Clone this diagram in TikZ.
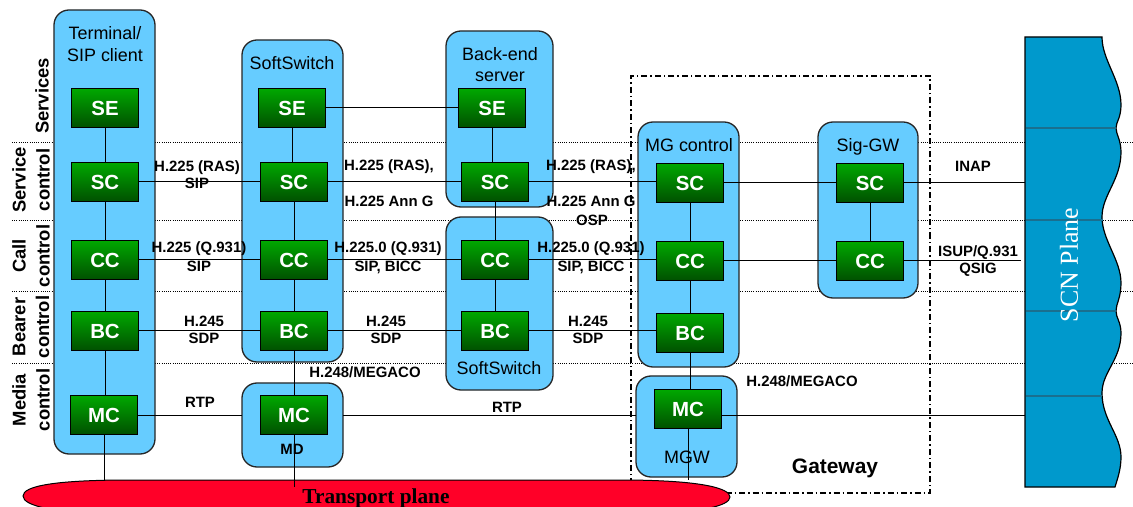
\documentclass[tikz,border=0pt]{standalone}
\usepackage{fontspec}
\setmainfont{Liberation Sans}
\newfontfamily\seriffont{Liberation Serif}
\definecolor{boxblue}{HTML}{66CCFF}
\definecolor{gtop}{HTML}{00A800}
\definecolor{gbot}{HTML}{005000}
\definecolor{scnblue}{HTML}{0099CC}
\definecolor{scnline}{HTML}{1A6F8F}
\definecolor{tpred}{HTML}{FF0028}
\tikzset{
  gbox/.style={draw=black, line width=1bp, top color=gtop, bottom color=gbot,
    minimum width=67bp, minimum height=39bp, inner sep=0pt, text=white,
    font=\fontsize{20.5}{22}\selectfont\bfseries},
  bbox/.style={draw=black!85, line width=1.3bp, fill=boxblue, rounded corners=15bp,
    inner sep=0pt, outer sep=0pt},
  gwbox/.style={draw=black, line width=1.6bp, dash pattern=on 6bp off 3bp on 1.5bp off 3bp,
    inner sep=0pt, outer sep=0pt},
  lbl/.style={font=\fontsize{15}{17}\selectfont\bfseries, anchor=base, inner sep=0pt},
  boxlbl/.style={font=\fontsize{18}{22}\selectfont, anchor=base, inner sep=0pt},
  rowlbl/.style={font=\fontsize{18.5}{24}\selectfont\bfseries, rotate=90, align=center, inner sep=0pt},
  conn/.style={line width=1bp, black},
  sepline/.style={line width=0.9bp, dash pattern=on 1bp off 1.2bp, black},
}
\begin{document}
\begin{tikzpicture}[x=1bp, y=-1bp]
\useasboundingbox (0,0) rectangle (1133,507);

% layer separators
\draw[sepline] (12,142) -- (1133,142);
\draw[sepline] (12,220) -- (1133,220);
\draw[sepline] (12,291) -- (1133,291);
\draw[sepline] (12,363) -- (1133,363);

% row labels
\node[rowlbl] (rSvc) at (42,96) {Services};
\node[rowlbl] (rSC) at (31,180) {Service\\control};
\node[rowlbl] (rCC) at (31,256) {Call\\control};
\node[rowlbl] (rBC) at (31,327) {Bearer\\control};
\node[rowlbl] (rMC) at (31,400) {Media\\control};

% gateway
\node[gwbox, minimum width=299bp, minimum height=417bp] (gw) at (780.5,284.5) {};
\node[font=\fontsize{21}{24}\selectfont\bfseries, anchor=base, inner sep=0pt] (gwlbl) at (835,473) {Gateway};

% blue boxes
\node[bbox, minimum width=101bp, minimum height=444bp] (term) at (104.5,232) {};
\node[bbox, minimum width=101bp, minimum height=322bp] (ss1) at (292.5,201) {};
\node[bbox, minimum width=101bp, minimum height=84bp] (md) at (292.5,425) {};
\node[bbox, minimum width=107bp, minimum height=176bp] (be) at (499.5,119) {};
\node[bbox, minimum width=107bp, minimum height=173bp] (ss2) at (499.5,303.5) {};
\node[bbox, minimum width=101bp, minimum height=245bp] (mgc) at (688.5,244.5) {};
\node[bbox, minimum width=101bp, minimum height=101bp] (mgw) at (686.5,426.5) {};
\node[bbox, minimum width=100bp, minimum height=176bp] (sig) at (868,210) {};

% box labels
\node[boxlbl] (termA) at (105,40) {Terminal/};
\node[boxlbl] (termB) at (105,62) {SIP client};
\node[boxlbl] (ss1l) at (292,70) {SoftSwitch};
\node[boxlbl] (beA) at (500,61) {Back-end};
\node[boxlbl] (beB) at (500,82) {server};
\node[boxlbl] (ss2l) at (499,375) {SoftSwitch};
\node[boxlbl] (mgcl) at (689,152) {MG control};
\node[boxlbl] (sigl) at (868,152) {Sig-GW};
\node[boxlbl] (mgwl) at (687,463) {MGW};
\node[lbl] (mdl) at (292,454) {MD};

% SCN plane
\draw[fill=scnblue, line width=1.2bp] (1025,37) -- (1102,37)
  .. controls (1102,60) and (1121,80) .. (1121,105)
  .. controls (1121,118) and (1116,122) .. (1116,128)
  .. controls (1116,134) and (1121,140) .. (1121,152)
  .. controls (1121,180) and (1102,195) .. (1102,217)
  .. controls (1102,240) and (1121,260) .. (1121,283)
  .. controls (1121,298) and (1116,304) .. (1116,311)
  .. controls (1116,318) and (1121,322) .. (1121,333)
  .. controls (1121,360) and (1102,372) .. (1102,393)
  .. controls (1102,420) and (1121,435) .. (1121,457)
  .. controls (1121,470) and (1117,480) .. (1115,487)
  -- (1025,487) -- cycle;
\draw[scnline, line width=1.2bp] (1026,128) -- (1116,128);
\draw[scnline, line width=1.2bp] (1026,220) -- (1103,220);
\draw[scnline, line width=1.2bp] (1026,311) -- (1116,311);
\draw[scnline, line width=1.2bp] (1026,396) -- (1102,396);
\node[rotate=90, text=white, inner sep=0pt, font=\seriffont\fontsize{26}{28}\selectfont] (scnlbl) at (1069,265) {SCN Plane};
\coordinate (scn) at (1025,260);

% transport plane
\draw[fill=tpred, line width=1bp] (23,496) .. controls (23,486) and (55,480) .. (130,480)
  -- (620,480) .. controls (700,480) and (730,488) .. (730,497)
  .. controls (730,506) and (700,514) .. (620,514) -- (130,514)
  .. controls (55,514) and (23,506) .. (23,496) -- cycle;
\node[anchor=base, inner sep=0pt, font=\seriffont\bfseries\fontsize{21.4}{24}\selectfont] (tplbl) at (376,503) {Transport plane};
\coordinate (tp) at (376,480);
\coordinate (tpin) at (376,487);

% green functional entities
\node[gbox] (tSE) at (105,108) {SE};
\node[gbox] (tSC) at (105,182) {SC};
\node[gbox] (tCC) at (105,260) {CC};
\node[gbox] (tBC) at (105,331) {BC};
\node[gbox] (tMC) at (104,415) {MC};

\node[gbox] (sSE) at (292,108) {SE};
\node[gbox] (sSC) at (294,182) {SC};
\node[gbox] (sCC) at (294,260) {CC};
\node[gbox] (sBC) at (294,331) {BC};
\node[gbox] (mdMC) at (294,415) {MC};

\node[gbox] (bSE) at (492,108) {SE};
\node[gbox] (bSC) at (495,182) {SC};
\node[gbox] (s2CC) at (495,260) {CC};
\node[gbox] (s2BC) at (495,331) {BC};

\node[gbox] (mgSC) at (690,183) {SC};
\node[gbox] (mgCC) at (690,261) {CC};
\node[gbox] (mgBC) at (690,333) {BC};
\node[gbox] (mgwMC) at (688,409) {MC};

\node[gbox] (sigSC) at (870,183) {SC};
\node[gbox] (sigCC) at (870,261) {CC};

% connectors
\begin{scope}[conn]
\draw (tSE) -- (tSC);
\draw (tSC) -- (tCC);
\draw (tCC) -- (tBC);
\draw (tBC.south) -- (tBC.south |- tMC.north);
\draw (tMC.south) -- (tMC.south |- tp);

\draw (sSE.south) -- (sSE.south |- sSC.north);
\draw (sSC) -- (sCC);
\draw (sCC) -- (sBC);
\draw (sBC) -- (mdMC);
\draw (mdMC.south) -- (mdMC.south |- tpin);

\draw (bSE.south) -- (bSE.south |- bSC.north);
\draw (bSC) -- (s2CC);
\draw (s2CC) -- (s2BC);

\draw (mgSC) -- (mgCC);
\draw (mgCC) -- (mgBC);
\draw (mgBC.south) -- (mgBC.south |- mgwMC.north);
\draw (mgwMC.south) -- (mgwMC.south |- tp);

\draw (sigSC) -- (sigCC);

\draw (sSE.east) -- (sSE.east -| bSE.west);

\draw (tSC.east) -- (tSC.east -| sSC.west);
\draw (sSC.east) -- (sSC.east -| bSC.west);
\draw (bSC.east) -- (bSC.east -| mgSC.west);
\draw (mgSC.east) -- (mgSC.east -| sigSC.west);
\draw (sigSC.east) -- (sigSC.east -| scn);

\draw (tCC.east) -- (tCC.east -| sCC.west);
\draw (sCC.east) -- (sCC.east -| s2CC.west);
\draw (s2CC.east) -- (s2CC.east -| mgCC.west);
\draw (mgCC.east) -- (mgCC.east -| sigCC.west);
\draw (sigCC.east) -- ([xshift=-4bp]sigCC.east -| scn);

\draw (tBC.east) -- (tBC.east -| sBC.west);
\draw (sBC.east) -- (sBC.east -| s2BC.west);
\draw (s2BC.east) -- (s2BC.east -| mgBC.west);

\draw (tMC.east) -- (tMC.east -| md.west);
\draw (md.east |- mdMC) -- (mgw.west |- mdMC);
\draw (mgwMC.east |- mdMC) -- (scn |- mdMC);
\end{scope}

% protocol labels
\node[lbl] (a1) at (197,172) {H.225 (RAS)};
\node[lbl] (a2) at (197,189) {SIP};
\node[lbl] (a3) at (389,171) {H.225 (RAS),};
\node[lbl] (a4) at (389,207) {H.225 Ann G};
\node[lbl] (a5) at (591,171) {H.225 (RAS),};
\node[lbl] (a6) at (591,207) {H.225 Ann G};
\node[lbl] (a7) at (592,226) {OSP};
\node[lbl] (a8) at (973,172) {INAP};

\node[lbl] (b1) at (199,253) {H.225 (Q.931)};
\node[lbl] (b2) at (199,272) {SIP};
\node[lbl] (b3) at (388,253) {H.225.0 (Q.931)};
\node[lbl] (b4) at (388,272) {SIP, BICC};
\node[lbl] (b5) at (591,253) {H.225.0 (Q.931)};
\node[lbl] (b6) at (591,272) {SIP, BICC};
\node[lbl] (b7) at (978,257) {ISUP/Q.931};
\node[lbl] (b8) at (978,274) {QSIG};

\node[lbl] (c1) at (204,327) {H.245};
\node[lbl] (c2) at (204,344) {SDP};
\node[lbl] (c3) at (386,327) {H.245};
\node[lbl] (c4) at (386,344) {SDP};
\node[lbl] (c5) at (588,327) {H.245};
\node[lbl] (c6) at (588,344) {SDP};

\node[lbl] (d1) at (365,378) {H.248/MEGACO};
\node[lbl] (d2) at (802,387) {H.248/MEGACO};
\node[lbl] (d3) at (200,407) {RTP};
\node[lbl] (d4) at (507,412) {RTP};
\end{tikzpicture}
\end{document}
